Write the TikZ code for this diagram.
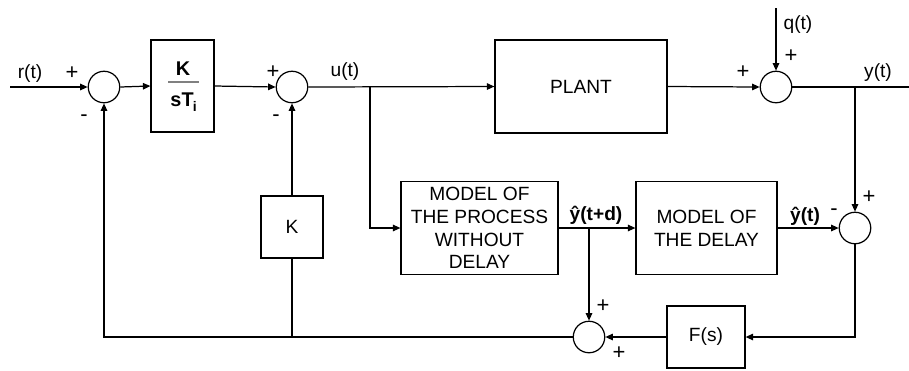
\documentclass[tikz,border=0pt]{standalone}
\usepackage{fontspec}
\setmainfont{Liberation Sans}
\usetikzlibrary{arrows.meta, positioning}
\tikzset{
  every picture/.style={line width=0.7pt},
  blk/.style={draw, minimum width=#1, minimum height=1.86cm, align=center, inner sep=0pt},
  blk/.default=1.24cm,
  sumnode/.style={draw, circle, minimum size=0.63cm, inner sep=0pt},
  sig/.style={-{Triangle[length=1.5mm, width=1.3mm]}},
  lbl/.style={inner sep=0pt},
  sgn/.style={inner sep=0pt, font=\fontsize{12.5}{12.5}\selectfont},
}
\begin{document}
\begin{tikzpicture}[x=0.02cm, y=-0.02cm,
    every node/.append style={font=\fontsize{10.9}{12.9}\selectfont}]
  \useasboundingbox (0,0) rectangle (909,370);

  % forward path
  \coordinate (rin) at (10,87);
  \node[sumnode] (sr) at (104,87) {};
  \node[blk=1.26cm, minimum height=1.84cm] (pi) at (182.5,86) {};
  \node[lbl, font=\fontsize{11.3}{12.9}\selectfont\bfseries] (pik) at (183,69) {K};
  \node[lbl, font=\fontsize{11.3}{12.9}\selectfont\bfseries] (pis) at (184,102) {sT\textsubscript{\kern-0.5pt\raisebox{-1.5pt}{i}}};
  \draw[line width=0.6pt, gray] (168,82) -- (199,82);
  \node[sumnode] (sk) at (292,87) {};
  \coordinate (uj) at (370,87);
  \node[blk=3.44cm] (plant) at (581,86.5) {PLANT};
  \node[sumnode] (sq) at (776,87) {};
  \coordinate (qin) at (776,8);
  \coordinate (yj) at (855,87);
  \coordinate (yout) at (909,87);

  \draw[sig] (rin) -- (sr.west);
  \draw[sig] (sr.east) -- (pi.west);
  \draw[sig] (pi.east) -- (sk.west);
  \draw[sig] (sk.east) -- (plant.west);
  \draw[sig] (plant.east) -- (sq.west);
  \draw[sig] (qin) -- (sq.north);
  \draw (sq.east) -- (yout);

  % models
  \node[blk=3.14cm] (mproc) at (479.5,228) {MODEL OF\\THE PROCESS\\WITHOUT\\DELAY};
  \node[blk=2.82cm] (mdelay) at (706.5,228) {MODEL OF\\THE DELAY};
  \node[sumnode] (sy) at (855,228) {};
  \coordinate (pj) at (589,228);
  \draw[sig] (uj) |- (mproc.west);
  \draw[sig] (mproc.east) -- (mdelay.west);
  \draw[sig] (mdelay.east) -- (sy.west);
  \draw[sig] (yj) -- (sy.north);

  % feedback
  \node[blk, minimum height=1.24cm] (kbox) at (292,227) {K};
  \node[blk=1.56cm, minimum height=1.24cm] (fbox) at (706,337) {F(s)};
  \node[sumnode] (sf) at (589,337) {};
  \coordinate (kj) at (292,337);
  \draw[sig] (sy.south) |- (fbox.east);
  \draw[sig] (fbox.west) -- (sf.east);
  \draw[sig] (pj) -- (sf.north);
  \draw[sig] (sf.west) -| (sr.south);
  \draw (kj) -- (kbox.south);
  \draw[sig] (kbox.north) -- (sk.south);

  % signal names
  \node[lbl] (lr) at (30,74) {r(t)};
  \node[lbl] (lu) at (345,72) {u(t)};
  \node[lbl] (lq) at (798,25) {q(t)};
  \node[lbl] (ly) at (878,73) {y(t)};
  \node[lbl, font=\fontsize{10.9}{12.9}\selectfont\bfseries] (lyd) at (596,215) {ŷ(t+d)};
  \node[lbl, font=\fontsize{10.9}{12.9}\selectfont\bfseries] (lyh) at (805,216) {ŷ(t)};

  % signs
  \node[sgn] (s1) at (72,73) {+};
  \node[sgn] (s2) at (84,118) {-};
  \node[sgn] (s3) at (273,72) {+};
  \node[sgn] (s4) at (276,118) {-};
  \node[sgn] (s5) at (743,72) {+};
  \node[sgn] (s6) at (791,56) {+};
  \node[sgn] (s7) at (834,212) {-};
  \node[sgn] (s8) at (869,197) {+};
  \node[sgn] (s9) at (603,306) {+};
  \node[sgn] (s10) at (619,353) {+};
\end{tikzpicture}
\end{document}
